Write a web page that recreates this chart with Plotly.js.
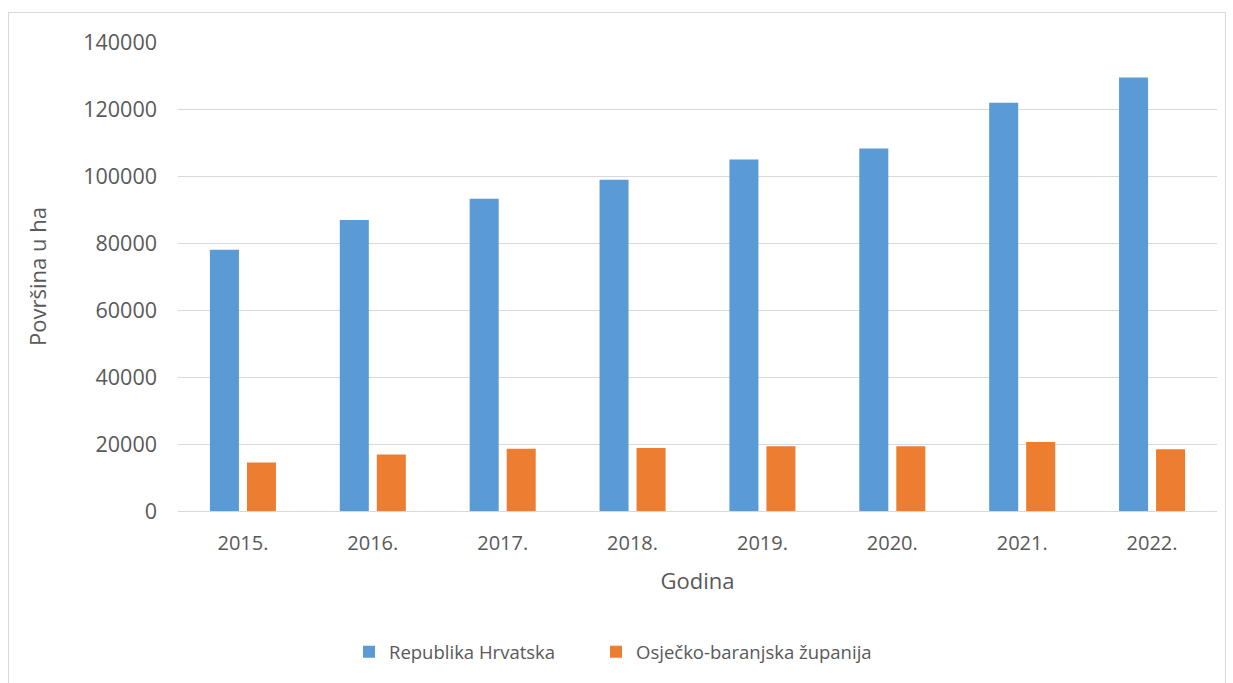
<!DOCTYPE html>
<html><head><meta charset="utf-8">
<script src="https://cdn.plot.ly/plotly-3.0.1.min.js"></script>
<style>
html,body{margin:0;padding:0;background:#fff;}
#frame{position:absolute;left:8px;top:12px;width:1218px;height:700px;border:1px solid #d9d9d9;box-sizing:border-box;}
#chart{position:absolute;left:0;top:0;width:1233px;height:683px;}
</style></head>
<body>
<div id="frame"></div>
<div id="chart"></div>
<script>
const years = ['2015.','2016.','2017.','2018.','2019.','2020.','2021.','2022.'];
const hrvatska = [78000, 86900, 93200, 98900, 104900, 108200, 121900, 129400];
const osijek = [14500, 16900, 18600, 18800, 19300, 19300, 20600, 18400];
const seriesNames = ['Republika Hrvatska', 'Osječko-baranjska županija'];

const font = {family: 'Open Sans, sans-serif', color: '#595959'};
const data = [
  {type:'bar', x: years, y: hrvatska, name: seriesNames[0], marker:{color:'#5B9BD5'}, legend:'legend'},
  {type:'bar', x: years, y: osijek, name: seriesNames[1], marker:{color:'#ED7D31'}, legend:'legend2'}
];
const legendBase = {orientation:'h', yanchor:'middle', y:-0.301, xanchor:'left',
  font:Object.assign({size:18.5}, font), itemwidth:30, bgcolor:'rgba(0,0,0,0)'};
const layout = {
  width:1233, height:683,
  paper_bgcolor:'rgba(0,0,0,0)', plot_bgcolor:'rgba(0,0,0,0)',
  margin:{l:178, r:16, t:42, b:171.5},
  barmode:'group', bargap:0.43, bargroupgap:0.216,
  font: Object.assign({size:18}, font),
  xaxis:{
    type:'category',
    showgrid:false, showline:true, linecolor:'#d9d9d9', linewidth:1,
    tickfont:Object.assign({size:20}, font), ticklabelstandoff:14,
    title:{text:'Godina', font:Object.assign({size:22}, font), standoff:18},
    automargin:false
  },
  yaxis:{
    range:[0,140000], dtick:20000, showgrid:true, gridcolor:'#d9d9d9', gridwidth:1,
    zeroline:false, tickformat:'d',
    tickfont:Object.assign({size:21.5}, font), ticklabelstandoff:20,
    title:{text:'Površina u ha', font:Object.assign({size:22}, font), standoff:30},
    automargin:false
  },
  showlegend:true,
  legend:Object.assign({}, legendBase, {x:(349-178)/1039}),
  legend2:Object.assign({}, legendBase, {x:(596-178)/1039})
};
Plotly.newPlot('chart', data, layout, {displayModeBar:false, staticPlot:true});
</script>
</body></html>
